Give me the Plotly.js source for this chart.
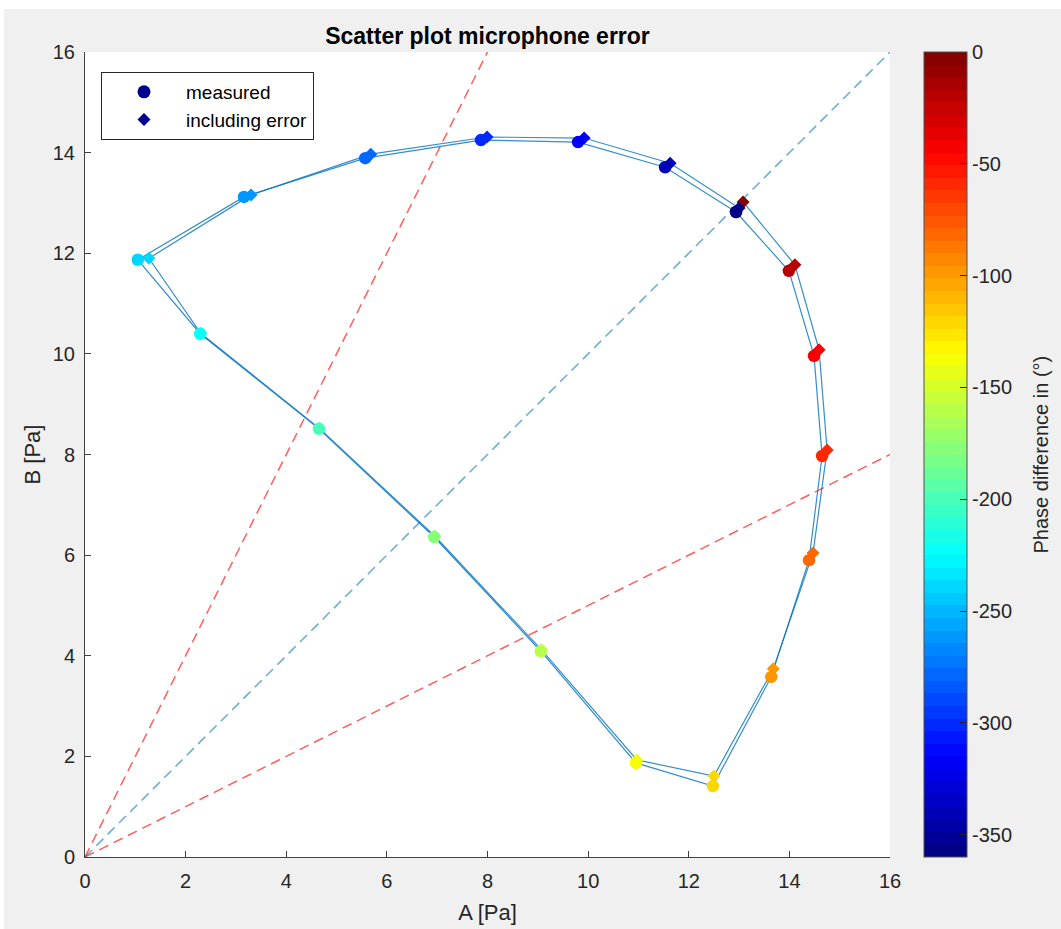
<!DOCTYPE html>
<html>
<head>
<meta charset="utf-8">
<script src="https://cdn.plot.ly/plotly-3.0.1.min.js"></script>
<style>
  html, body { margin: 0; padding: 0; background: #ffffff; }
  #chart { position: absolute; left: 4px; top: 9px; width: 1057px; height: 920px; }
</style>
</head>
<body>
<div id="chart"></div>
<script>
// ---- data ----
const phase = [0, -20, -40, -60, -80, -100, -120, -140, -160, -180, -200, -220, -240, -260, -280, -300, -320, -340, -360];
const measuredA = [12.94, 13.99, 14.49, 14.65, 14.39, 13.64, 12.48, 10.95, 9.06, 6.94, 4.65, 2.29, 1.05, 3.16, 5.57, 7.87, 9.80, 11.53, 12.94];
const measuredB = [12.82, 11.65, 9.96, 7.97, 5.90, 3.58, 1.41, 1.87, 4.09, 6.36, 8.51, 10.40, 11.87, 13.12, 13.89, 14.25, 14.21, 13.71, 12.82];
const errorA = [13.08, 14.11, 14.59, 14.75, 14.47, 13.68, 12.50, 10.97, 9.07, 6.95, 4.66, 2.30, 1.27, 3.30, 5.68, 7.99, 9.92, 11.63, 13.00];
const errorB = [13.02, 11.77, 10.08, 8.09, 6.04, 3.74, 1.61, 1.93, 4.12, 6.38, 8.52, 10.41, 11.90, 13.16, 13.97, 14.31, 14.29, 13.79, 12.90];
const refA = [0, 16];
const redSlopes = [2, 0.5];
const blueSlope = 1;
const xTicks = [0, 2, 4, 6, 8, 10, 12, 14, 16];
const yTicks = [0, 2, 4, 6, 8, 10, 12, 14, 16];
const cbTicks = [0, -50, -100, -150, -200, -250, -300, -350];

// ---- MATLAB jet(64) colormap, discrete ----
function clamp(v) { return Math.max(0, Math.min(1, v)); }
function jet(t) {
  const r = clamp(1.5 - Math.abs(4 * t - 3));
  const g = clamp(1.5 - Math.abs(4 * t - 2));
  const b = clamp(1.5 - Math.abs(4 * t - 1));
  return 'rgb(' + Math.round(r * 255) + ',' + Math.round(g * 255) + ',' + Math.round(b * 255) + ')';
}
const N = 64;
const jetScale = [];
for (let i = 0; i < N; i++) {
  const c = jet((i + 0.5) / N);
  jetScale.push([i / N, c]);
  jetScale.push([(i + 1) / N, c]);
}

const font = 'Liberation Sans, Arial, Helvetica, sans-serif';
const traces = [];
redSlopes.forEach(s => {
  traces.push({
    x: refA, y: refA.map(a => s * a), mode: 'lines', showlegend: false, hoverinfo: 'skip',
    line: { color: 'rgba(255,40,40,0.75)', width: 1.5, dash: '10px,6px' }
  });
});
traces.push({
  x: refA, y: refA.map(a => blueSlope * a), mode: 'lines', showlegend: false, hoverinfo: 'skip',
  line: { color: 'rgba(0,114,189,0.6)', width: 1.5, dash: '10px,6px' }
});
traces.push({
  x: measuredA, y: measuredB, mode: 'lines', showlegend: false,
  line: { color: 'rgba(0,114,189,0.8)', width: 1.2 }
});
traces.push({
  x: errorA, y: errorB, mode: 'lines', showlegend: false,
  line: { color: 'rgba(0,114,189,0.8)', width: 1.2 }
});
traces.push({
  x: measuredA, y: measuredB, mode: 'markers', showlegend: false,
  marker: {
    symbol: 'circle', size: 12.5, color: phase, colorscale: jetScale, cmin: -360, cmax: 0,
    line: { width: 0 }, showscale: true,
    colorbar: {
      x: (924 - 85) / 805, xanchor: 'left', xpad: 0, thickness: 43, thicknessmode: 'pixels',
      len: 1, lenmode: 'fraction', y: 0.5, yanchor: 'middle', ypad: 0,
      outlinecolor: '#505050', outlinewidth: 1,
      tickvals: cbTicks, ticktext: cbTicks.map(String),
      ticks: 'inside', ticklen: 7, tickcolor: '#262626', ticklabelstandoff: 3,
      tickfont: { family: font, size: 20, color: '#262626' }
    }
  }
});
traces.push({
  x: errorA, y: errorB, mode: 'markers', showlegend: false,
  marker: { symbol: 'diamond', size: 10, color: phase, colorscale: jetScale, cmin: -360, cmax: 0, line: { width: 0 } }
});
// legend entries
traces.push({ x: [null], y: [null], mode: 'markers', name: 'measured',
  marker: { symbol: 'circle', size: 13, color: '#00008F' } });
traces.push({ x: [null], y: [null], mode: 'markers', name: 'including error',
  marker: { symbol: 'diamond', size: 10, color: '#00008F' } });

const layout = {
  width: 1057, height: 920,
  paper_bgcolor: '#F0F0F0', plot_bgcolor: '#FFFFFF',
  margin: { l: 81, r: 171, t: 43, b: 72, pad: 0 },
  font: { family: font, color: '#262626' },
  title: { text: '<b>Scatter plot microphone error</b>', x: 0.5 - (171 - 81) / 2 / 1057, xanchor: 'center', y: 1 - 27 / 920, yanchor: 'middle',
    font: { family: font, size: 23, color: '#000000' } },
  xaxis: {
    range: [0, 16], tickvals: xTicks, ticktext: xTicks.map(String), ticks: 'inside', ticklen: 6, tickcolor: '#404040',
    showline: true, linecolor: '#404040', linewidth: 1, showgrid: false, zeroline: false, ticklabelstandoff: 6,
    tickfont: { family: font, size: 20, color: '#262626' },
    title: { text: 'A [Pa]', font: { family: font, size: 22, color: '#262626' }, standoff: 13 }
  },
  yaxis: {
    range: [0, 16], tickvals: yTicks, ticktext: yTicks.map(String), ticks: 'inside', ticklen: 6, tickcolor: '#404040',
    showline: true, linecolor: '#404040', linewidth: 1, showgrid: false, zeroline: false, ticklabelstandoff: 5,
    tickfont: { family: font, size: 20, color: '#262626' },
    title: { text: 'B [Pa]', font: { family: font, size: 22, color: '#262626' }, standoff: 6 }
  },
  annotations: [{
    text: 'Phase difference in (°)', textangle: -90, showarrow: false,
    xref: 'paper', yref: 'paper', x: (1036 - 81) / 805, y: 0.5, xanchor: 'center', yanchor: 'middle',
    font: { family: font, size: 20, color: '#262626' }
  }],
  legend: {
    x: (97 - 81) / 805, y: (848 - 63) / 805, xanchor: 'left', yanchor: 'top',
    bgcolor: '#FFFFFF', bordercolor: '#262626', borderwidth: 1,
    font: { family: font, size: 19, color: '#000000' },
    itemwidth: 74
  },
  showlegend: true
};

Plotly.newPlot('chart', traces, layout, { displayModeBar: false, staticPlot: true });
</script>
</body>
</html>
